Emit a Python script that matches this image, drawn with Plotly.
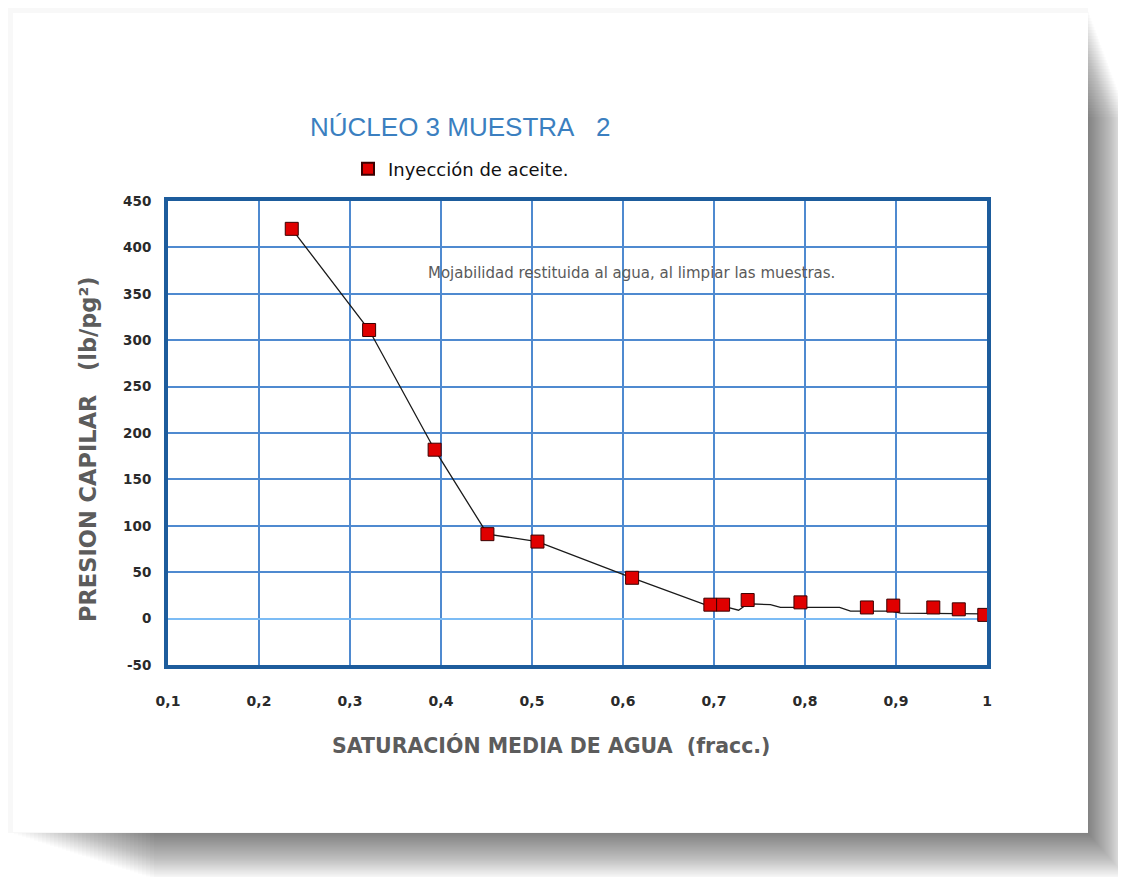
import plotly.graph_objects as go

# Data points (Inyección de aceite)
sw = [0.236, 0.321, 0.393, 0.451, 0.506, 0.610, 0.696, 0.710, 0.737, 0.795, 0.868, 0.897, 0.941, 0.969, 0.997]
pc = [420, 311, 182, 91, 83, 44, 15, 15, 20, 17.5, 12, 14, 12, 10, 4]

# Trend line drawn through / near the points
line_x = [0.236, 0.321, 0.393, 0.451, 0.506, 0.610, 0.696, 0.712, 0.727, 0.737, 0.762, 0.773, 0.838, 0.850, 0.895, 0.905, 0.997]
line_y = [420, 311, 182, 91, 83, 44, 13, 13, 9, 16, 15, 12, 12, 8, 8, 6, 5]

x_ticks = [0.1, 0.2, 0.3, 0.4, 0.5, 0.6, 0.7, 0.8, 0.9, 1.0]
x_tick_text = ["0,1", "0,2", "0,3", "0,4", "0,5", "0,6", "0,7", "0,8", "0,9", "1"]
y_ticks = [-50, 0, 50, 100, 150, 200, 250, 300, 350, 400, 450]
y_tick_text = ["-50", "0", "50", "100", "150", "200", "250", "300", "350", "400", "450"]

OFF = 8  # page body margin
W, H = 1126 - OFF, 877 - OFF
# plot area in screen pixels
L, R, T, B = 168, 987, 201, 665


def px(x):
    return (x - L) / (R - L)


def py(y):
    return (B - y) / (B - T)


fig = go.Figure()
fig.add_trace(go.Scatter(x=line_x, y=line_y, mode="lines",
                         line=dict(color="#1a1a1a", width=1.3),
                         showlegend=False, hoverinfo="skip"))
fig.add_trace(go.Scatter(x=sw, y=pc, mode="markers", name="Inyección de aceite.",
                         marker=dict(symbol="square", size=13, color="#e00000",
                                     line=dict(color="#3a0000", width=1))))

shapes = []
# soft shadow right / bottom of the card
n = 36
for i in range(n):
    f = (i + 1) / n
    shapes.append(dict(type="rect", xref="paper", yref="paper", layer="below",
                       x0=px(14 + 4 * i), x1=px(1088 + 40 * f),
                       y0=py(12 + 3 * i), y1=py(833 + 46 * f),
                       fillcolor="#000000", opacity=0.017, line=dict(width=0)))
# faint outer halo at top/left
shapes.append(dict(type="rect", xref="paper", yref="paper", layer="below",
                   x0=px(2), x1=px(1088), y0=py(2), y1=py(833),
                   fillcolor="#f2f2f2", line=dict(width=0)))
shapes.append(dict(type="rect", xref="paper", yref="paper", layer="below",
                   x0=px(7), x1=px(1088), y0=py(7), y1=py(833),
                   fillcolor="#f8f8f8", line=dict(width=0)))
shapes.append(dict(type="rect", xref="paper", yref="paper", layer="below",
                   x0=px(13), x1=px(1088), y0=py(13), y1=py(832),
                   fillcolor="#ffffff", line=dict(width=0)))

FONT = "Arial, Liberation Sans, sans-serif"
WIDE = "DejaVu Sans, Verdana, sans-serif"

fig.update_layout(
    width=W, height=H,
    margin=dict(l=L - OFF, r=W - (R - OFF), t=T - OFF, b=H - (B - OFF)),
    paper_bgcolor="#ffffff", plot_bgcolor="#ffffff",
    font=dict(family=FONT, color="#333333"),
    shapes=shapes,
    showlegend=True,
    legend=dict(orientation="h", x=px(348), y=py(169), xanchor="left", yanchor="middle",
                bgcolor="rgba(0,0,0,0)", font=dict(size=18, color="#111111", family=WIDE),
                itemsizing="constant"),
    annotations=[
        dict(text="NÚCLEO 3 MUESTRA\u00a0\u00a0\u00a02", xref="paper", yref="paper",
             x=px(460), y=py(127), xanchor="center", yanchor="middle", showarrow=False,
             font=dict(size=26, color="#3b7fc0", family=FONT)),
        dict(text="Mojabilidad restituida al agua, al limpiar las muestras.", xref="paper", yref="paper",
             x=px(631), y=py(273), xanchor="center", yanchor="middle", showarrow=False,
             font=dict(size=15, color="#5a5a5a", family=WIDE)),
        dict(text="SATURACIÓN MEDIA DE AGUA\u00a0\u00a0(fracc.)", xref="paper", yref="paper",
             x=px(551), y=py(745), xanchor="center", yanchor="middle", showarrow=False,
             font=dict(size=20.5, color="#5c5c5c", family=WIDE, weight="bold")),
        dict(text="PRESION CAPILAR\u00a0\u00a0\u00a0(lb/pg²)", xref="paper", yref="paper",
             x=px(88), y=py(449), xanchor="center", yanchor="middle", showarrow=False,
             textangle=-90,
             font=dict(size=22.5, color="#5c5c5c", family=WIDE, weight="bold")),
    ],
    xaxis=dict(range=[0.1, 1.0], tickvals=x_ticks, ticktext=x_tick_text,
               showgrid=True, gridcolor="#4f8ad0", gridwidth=2,
               showline=True, linecolor="#1d5c9c", linewidth=4, mirror=True,
               ticks="", zeroline=False, ticklabelstandoff=20,
               tickfont=dict(size=14, color="#2a2a2a", family=WIDE, weight="bold")),
    yaxis=dict(range=[-50, 450], tickvals=y_ticks, ticktext=y_tick_text,
               showgrid=True, gridcolor="#4f8ad0", gridwidth=2,
               showline=True, linecolor="#1d5c9c", linewidth=4, mirror=True,
               ticks="", zeroline=True, zerolinecolor="#7cbcf5", zerolinewidth=2,
               ticklabelstandoff=10,
               tickfont=dict(size=13.5, color="#2a2a2a", family=WIDE, weight="bold")),
)

fig.write_html("out.html")
